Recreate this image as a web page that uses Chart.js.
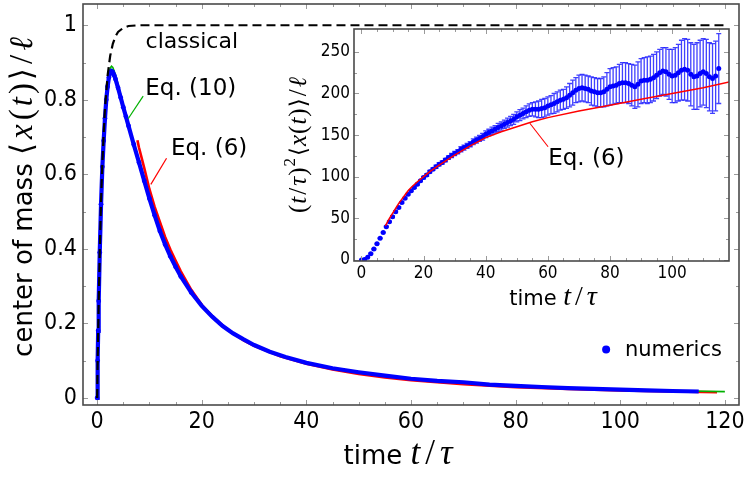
<!DOCTYPE html>
<html><head><meta charset="utf-8">
<script src="https://cdn.jsdelivr.net/npm/chart.js@4.4.1/dist/chart.umd.min.js"></script>
<style>
html,body{margin:0;padding:0;background:#fff;}
#wrap{position:relative;width:747px;height:478px;}
#wrap canvas{position:absolute;left:0;top:0;}
</style></head><body>
<div id="wrap"><canvas id="main" width="747" height="478"></canvas><canvas id="inset" width="747" height="478"></canvas></div>
<script>
// ---------- data ----------
const mainTicksX = [0, 20, 40, 60, 80, 100, 120];
const mainTicksY = [0, 0.2, 0.4, 0.6, 0.8, 1];
const insetTicksX = [0, 20, 40, 60, 80, 100];
const insetTicksY = [0, 50, 100, 150, 200, 250];

// numerics, main panel: centre of mass <x(t)>/l
const numT = [0,0.1,0.2,0.3,0.5,0.75,1,1.25,1.5,1.75,2,2.25,2.5,2.75,3,3.25,3.5,4,4.5,5,5.5,6,7,8,9,10,11,12,13,14,15,16,18,20,22,24,26,28,30,33,36,40,45,50,55,60,65,70,75,80,85,90,95,100,105,110,115];
const numX = [0,0.1,0.18,0.26,0.39,0.52,0.62,0.69,0.75,0.80,0.835,0.86,0.873,0.877,0.874,0.866,0.856,0.832,0.806,0.78,0.755,0.73,0.68,0.632,0.583,0.535,0.49,0.448,0.412,0.38,0.352,0.326,0.283,0.247,0.218,0.193,0.173,0.157,0.142,0.124,0.11,0.094,0.0795,0.069,0.06,0.0515,0.0458,0.042,0.0357,0.0325,0.0293,0.0265,0.0245,0.0222,0.0204,0.0186,0.0172];

// Eq. (10)
const eq10T = [0,0.1,0.2,0.3,0.5,0.75,1,1.25,1.5,1.75,2,2.25,2.5,2.75,3,3.5,4,5,6,7,8,9,10,12,14,16,18,20,25,30,35,40,50,60,70,80,90,100,110,120];
const eq10X = [0,0.1,0.18,0.26,0.39,0.525,0.625,0.7,0.76,0.81,0.845,0.87,0.885,0.89,0.887,0.868,0.842,0.787,0.735,0.684,0.636,0.589,0.541,0.455,0.386,0.329,0.284,0.247,0.181,0.141,0.114,0.094,0.067,0.0513,0.041,0.033,0.0272,0.0226,0.0193,0.0168];

// classical
const classT = [0,0.1,0.25,0.5,0.75,1,1.25,1.5,2,2.5,3,3.5,4,5,6,8,120];
const classX = [0,0.095,0.22,0.39,0.53,0.63,0.71,0.777,0.865,0.918,0.95,0.97,0.982,0.993,0.998,1,1];

// Eq. (6), in inset units (t/tau)^2 <x(t)>/l
const eq6T = [7.7,8,9,10,11,12,13,14,15,16,18,20,22,25,28,30,35,40,45,50,55,60,70,80,90,100,110,118.5];
const eq6S = [41,43,50,56,62,68,73,78,83,87,94,100,106,114,121,126,137,147,154,160,166,171,179,186,193,200,207,214];

// numerics, inset: (t/tau)^2 <x(t)>/l with error bars
const insT = [0,1,2,3,4,5,6,7,8,9,10,11,12,13,14,15,16,17,18,19,20,21,22,23,24,25,26,27,28,29,30,31,32,33,34,35,36,37,38,39,40,41,42,43,44,45,46,47,48,49,50,51,52,53,54,55,56,57,58,59,60,61,62,63,64,65,66,67,68,69,70,71,72,73,74,75,76,77,78,79,80,81,82,83,84,85,86,87,88,89,90,91,92,93,94,95,96,97,98,99,100,101,102,103,104,105,106,107,108,109,110,111,112,113,114,115];
const insV = [0,0.6,3.2,7.5,13,19.5,26,33,40,46,
  52,58,63,69,74,79,83,87,91,95,
  99,102,106,109,112,115,117,120,123,125.5,
  128,130,133,135,137,139,142,144,146,148,
  151,153,155,157,159,161,163,165,167,169,
  172,174,176,178,180,181,181,181,182,183,
  185,186.5,188,190,192,193,195,198,201,204,
  206,207,206,205,203,202,201,201,202,205,
  208,209,210,212,213,213,212,210,208,211,
  215,216,216,217,219,222,225,227,226,223,
  221,222,225,228,229,228,223,220,221,224,
  226,224,220,218,221,230];
const insE = [0,0,0,0.5,0.5,0.5,0.5,0.5,0.5,0.5,
  1,1,1,1,1,1,1,1,1,1,
  1.5,1.5,1.5,1.5,2,2,2,2,2,2.5,
  2.5,2.5,3,3,3,3,3.5,3.5,3.5,4,
  4,4,4.5,4.5,5,5,5,5.5,5.5,6,
  6,6.5,6.5,7,7.5,8,9,10,11,11,
  11,11,12,12,12,12,13,14,15,15,
  16,16,16,16,17,17,17,17,18,20,
  22,22,22,23,24,24,24,25,26,27,
  27,27,28,28,28,28,28,28,29,30,
  32,33,34,36,37,37,38,39,40,40,
  40,41,41,42,42,42];

// ---------- helpers ----------
const zip = (xs, ys) => xs.map((x, i) => ({x: x, y: ys[i]}));
const FONT_TICK = "'DejaVu Sans Condensed','Liberation Sans Narrow','DejaVu Sans',sans-serif";
const FONT_TXT = "'DejaVu Sans',sans-serif";
const FONT_MATH = "'Liberation Serif','DejaVu Serif',serif";
const BLUE = '#0000ff';

function drawRich(ctx, parts, cx, by, rot) {
  ctx.save();
  ctx.translate(cx, by);
  if (rot) ctx.rotate(rot);
  let w = 0;
  parts.forEach(p => { ctx.font = p.f; p.w = ctx.measureText(p.t).width; w += p.w + (p.dx || 0); });
  let x = -w / 2;
  ctx.textBaseline = 'alphabetic'; ctx.textAlign = 'left'; ctx.fillStyle = '#000';
  parts.forEach(p => { ctx.font = p.f; x += (p.dx || 0); ctx.fillText(p.t, x, p.dy || 0); x += p.w; });
  ctx.restore();
}

function drawFrame(chart, xMaj, xMin, yMaj, yMin) {
  const ctx = chart.ctx, a = chart.chartArea, xs = chart.scales.x, ys = chart.scales.y;
  ctx.save();
  ctx.strokeStyle = '#9a9a9a'; ctx.lineWidth = 1;
  const tick = (v, len, isX) => {
    ctx.beginPath();
    if (isX) {
      const p = Math.round(xs.getPixelForValue(v)) + 0.5;
      ctx.moveTo(p, a.bottom); ctx.lineTo(p, a.bottom - len);
      ctx.moveTo(p, a.top); ctx.lineTo(p, a.top + len);
    } else {
      const p = Math.round(ys.getPixelForValue(v)) + 0.5;
      ctx.moveTo(a.left, p); ctx.lineTo(a.left + len, p);
      ctx.moveTo(a.right, p); ctx.lineTo(a.right - len, p);
    }
    ctx.stroke();
  };
  xMaj.forEach(v => tick(v, 5, true)); xMin.forEach(v => tick(v, 3, true));
  yMaj.forEach(v => tick(v, 5, false)); yMin.forEach(v => tick(v, 3, false));
  ctx.strokeStyle = '#4a4a4a'; ctx.lineWidth = 1.6;
  ctx.strokeRect(a.left, a.top, a.right - a.left, a.bottom - a.top);
  ctx.restore();
}

function tickScale(min, max, ticks, labels, fontSize, pad, fitProp, fitVal) {
  return {
    type: 'linear', min: min, max: max,
    afterBuildTicks: s => { s.ticks = ticks.map(v => ({value: v})); },
    afterFit: s => {
      s[fitProp] = fitVal;
      s.paddingTop = 0; s.paddingBottom = 0; s.paddingLeft = 0; s.paddingRight = 0;
    },
    grid: {display: false, drawTicks: false},
    border: {display: false},
    ticks: {
      autoSkip: false, maxRotation: 0, padding: pad, color: '#000',
      font: {family: FONT_TICK, size: fontSize},
      callback: v => labels[ticks.indexOf(v)] !== undefined ? labels[ticks.indexOf(v)] : String(v)
    }
  };
}

// ---------- main chart ----------
const mainMinorX = [5,10,15,25,30,35,45,50,55,65,70,75,85,90,95,105,110,115];
const mainMinorY = [0.1,0.3,0.5,0.7,0.9];
const eq6Main = eq6T.map((t, i) => eq6S[i] / (t * t));

const mainDecor = {
  id: 'mainDecor',
  afterDraw(chart) {
    const ctx = chart.ctx, xs = chart.scales.x, ys = chart.scales.y;
    const P = (x, y) => [xs.getPixelForValue(x), ys.getPixelForValue(y)];
    drawFrame(chart, mainTicksX, mainMinorX, mainTicksY, mainMinorY);
    ctx.save();
    ctx.fillStyle = '#000'; ctx.textBaseline = 'middle'; ctx.textAlign = 'center';
    ctx.font = '22px ' + FONT_TXT;
    let p = P(18.1, 0.953); ctx.fillText('classical', p[0], p[1]);
    ctx.font = '23px ' + FONT_TXT;
    p = P(17.9, 0.828); ctx.fillText('Eq. (10)', p[0], p[1]);
    p = P(21.4, 0.668); ctx.fillText('Eq. (6)', p[0], p[1]);
    ctx.lineWidth = 1.2;
    ctx.strokeStyle = '#00b000';
    let a = P(8.8, 0.81), b = P(5.93, 0.749);
    ctx.beginPath(); ctx.moveTo(a[0], a[1]); ctx.lineTo(b[0], b[1]); ctx.stroke();
    ctx.strokeStyle = '#ff0000';
    a = P(13.27, 0.643); b = P(10.27, 0.573);
    ctx.beginPath(); ctx.moveTo(a[0], a[1]); ctx.lineTo(b[0], b[1]); ctx.stroke();
    p = P(97.3, 0.13);
    ctx.fillStyle = BLUE; ctx.beginPath(); ctx.arc(p[0], p[1], 4, 0, Math.PI * 2); ctx.fill();
    ctx.fillStyle = '#000'; ctx.textAlign = 'left'; ctx.font = '21px ' + FONT_TXT;
    p = P(100.9, 0.13); ctx.fillText('numerics', p[0], p[1] + 1);
    ctx.restore();
    const mf = s => s + 'px ' + FONT_MATH;
    drawRich(ctx, [
      {t: 'time ', f: '26px ' + FONT_TXT},
      {t: 't', f: 'italic ' + mf(35)},
      {t: '/', f: mf(35), dx: 5},
      {t: 'τ', f: 'italic ' + mf(35), dx: 5}
    ], 398, 464, 0);
    drawRich(ctx, [
      {t: 'center of mass ', f: '26px ' + FONT_TXT},
      {t: '⟨', f: '31px ' + FONT_TXT},
      {t: 'x', f: 'italic ' + mf(33), dx: 4},
      {t: '(', f: mf(33), dx: 4},
      {t: 't', f: 'italic ' + mf(33), dx: 3},
      {t: ')', f: mf(33), dx: 3},
      {t: '⟩', f: '31px ' + FONT_TXT, dx: 3},
      {t: '/', f: mf(33), dx: 4},
      {t: 'ℓ', f: 'italic ' + mf(33), dx: 4}
    ], 32, 197, -Math.PI / 2);
  }
};

new Chart(document.getElementById('main'), {
  type: 'scatter',
  data: {
    datasets: [
      {label: 'classical', data: zip(classT, classX), showLine: true, borderColor: '#000', borderWidth: 2.2, borderDash: [9, 5], pointRadius: 0, order: 0},
      {label: 'numerics', data: zip(numT, numX), showLine: true, borderColor: BLUE, backgroundColor: BLUE,
        borderWidth: 4.2, pointRadius: c => (c.raw && c.raw.x < 20) ? 2.4 : 0, pointBorderWidth: 0, order: 1},
      {label: 'Eq. (10)', data: zip(eq10T, eq10X), showLine: true, borderColor: '#00b000', borderWidth: 1.6, pointRadius: 0, order: 2},
      {label: 'Eq. (6)', data: zip(eq6T, eq6Main), showLine: true, borderColor: '#ff0000', borderWidth: 2.6, pointRadius: 0, order: 3}
    ]
  },
  options: {
    responsive: false, animation: false, events: [],
    layout: {padding: {top: 1, right: 8, left: 0, bottom: 0}},
    plugins: {legend: {display: false}, tooltip: {enabled: false}},
    scales: {
      x: tickScale(-2.7, 122.7, mainTicksX, ['0','20','40','60','80','100','120'], 23, 3, 'height', 73),
      y: tickScale(-0.019, 1.057, mainTicksY, ['0','0.2','0.4','0.6','0.8','1'], 23, 6, 'width', 83)
    }
  },
  plugins: [mainDecor]
});

// ---------- inset chart ----------
const insMinorX = [5,10,15,25,30,35,45,50,55,65,70,75,85,90,95,105,110,115];
const insMinorY = [25,75,125,175,225];

const insetDecor = {
  id: 'insetDecor',
  beforeDatasetsDraw(chart) {
    const ctx = chart.ctx, xs = chart.scales.x, ys = chart.scales.y, a = chart.chartArea;
    ctx.save();
    ctx.beginPath(); ctx.rect(a.left, a.top, a.right - a.left, a.bottom - a.top); ctx.clip();
    ctx.strokeStyle = 'rgba(30,30,255,0.85)'; ctx.lineWidth = 1.3;
    insT.forEach((t, i) => {
      if (!insE[i]) return;
      const x = xs.getPixelForValue(t);
      const y1 = ys.getPixelForValue(insV[i] + insE[i]);
      const y2 = ys.getPixelForValue(insV[i] - insE[i]);
      ctx.beginPath();
      ctx.moveTo(x, y1); ctx.lineTo(x, y2);
      ctx.moveTo(x - 2.5, y1); ctx.lineTo(x + 2.5, y1);
      ctx.moveTo(x - 2.5, y2); ctx.lineTo(x + 2.5, y2);
      ctx.stroke();
    });
    ctx.restore();
  },
  afterDraw(chart) {
    const ctx = chart.ctx, xs = chart.scales.x, ys = chart.scales.y;
    const P = (x, y) => [xs.getPixelForValue(x), ys.getPixelForValue(y)];
    drawFrame(chart, insetTicksX, insMinorX, insetTicksY, insMinorY);
    ctx.save();
    ctx.fillStyle = '#000'; ctx.textBaseline = 'middle'; ctx.textAlign = 'left';
    ctx.font = '23px ' + FONT_TXT;
    let p = P(60.1, 121); ctx.fillText('Eq. (6)', p[0], p[1]);
    ctx.strokeStyle = '#ff0000'; ctx.lineWidth = 1.1;
    const a = P(60.07, 136), b = P(54.2, 164.2);
    ctx.beginPath(); ctx.moveTo(a[0], a[1]); ctx.lineTo(b[0], b[1]); ctx.stroke();
    ctx.restore();
    const mf = s => s + 'px ' + FONT_MATH;
    drawRich(ctx, [
      {t: 'time ', f: '21px ' + FONT_TXT},
      {t: 't', f: 'italic ' + mf(28)},
      {t: '/', f: mf(28), dx: 4},
      {t: 'τ', f: 'italic ' + mf(28), dx: 4}
    ], 553, 305, 0);
    drawRich(ctx, [
      {t: '(', f: mf(25)},
      {t: 't', f: 'italic ' + mf(25), dx: 1},
      {t: '/', f: mf(25), dx: 2},
      {t: 'τ', f: 'italic ' + mf(25), dx: 2},
      {t: ')', f: mf(25), dx: 1},
      {t: '2', f: mf(17), dy: -11, dx: 1},
      {t: '⟨', f: '23px ' + FONT_TXT, dx: 2},
      {t: 'x', f: 'italic ' + mf(25), dx: 1},
      {t: '(', f: mf(25), dx: 1},
      {t: 't', f: 'italic ' + mf(25), dx: 1},
      {t: ')', f: mf(25), dx: 1},
      {t: '⟩', f: '23px ' + FONT_TXT, dx: 1},
      {t: '/', f: mf(25), dx: 2},
      {t: 'ℓ', f: 'italic ' + mf(25), dx: 2}
    ], 306, 145, -Math.PI / 2);
  }
};

new Chart(document.getElementById('inset'), {
  type: 'scatter',
  data: {
    datasets: [
      {label: 'Eq. (6)', data: zip(eq6T, eq6S), showLine: true, borderColor: '#ff0000', borderWidth: 1.5, pointRadius: 0, order: 0},
      {label: 'numerics', data: zip(insT, insV), showLine: false, backgroundColor: BLUE, borderColor: BLUE, pointRadius: 2.5, pointBorderWidth: 0, order: 1}
    ]
  },
  options: {
    responsive: false, animation: false, events: [],
    layout: {padding: {top: 29, right: 18, left: 0, bottom: 0}},
    plugins: {legend: {display: false}, tooltip: {enabled: false}},
    scales: {
      x: tickScale(-2.4, 118.3, insetTicksX, ['0','20','40','60','80','100'], 17, 2, 'height', 217),
      y: tickScale(-1.3, 277.5, insetTicksY, ['0','50','100','150','200','250'], 17, 4, 'width', 354)
    }
  },
  plugins: [insetDecor]
});
</script></body></html>
